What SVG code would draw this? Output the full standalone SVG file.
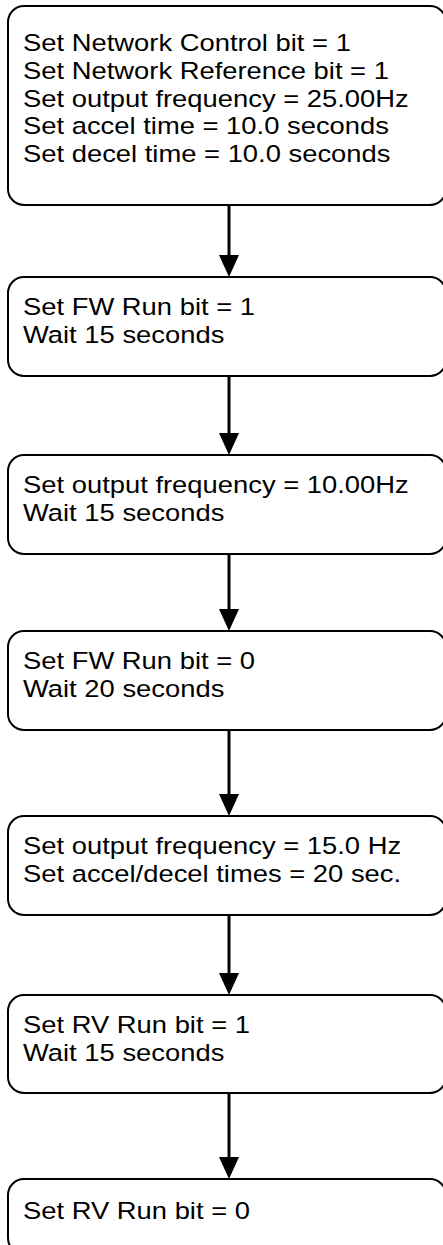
<svg xmlns="http://www.w3.org/2000/svg" width="443" height="1245" viewBox="0 0 443 1245">
<style>
.box{fill:#fff;stroke:#000;stroke-width:2}
.t{font-family:"Liberation Sans",Arial,Helvetica,sans-serif;font-size:24.5px;fill:#000}
.c{stroke:#000;stroke-width:3;fill:none}
.ah{fill:#000}
</style>
<rect width="443" height="1245" fill="#fff"/>
<g id="connectors">
<line class="c" x1="229" y1="205" x2="229" y2="256"/><path class="ah" d="M219,255 L239,255 L229,277 Z"/>
<line class="c" x1="229" y1="376" x2="229" y2="434"/><path class="ah" d="M219,433 L239,433 L229,455 Z"/>
<line class="c" x1="229" y1="554" x2="229" y2="610"/><path class="ah" d="M219,609 L239,609 L229,631 Z"/>
<line class="c" x1="229" y1="730" x2="229" y2="795"/><path class="ah" d="M219,794 L239,794 L229,816 Z"/>
<line class="c" x1="229" y1="915" x2="229" y2="974"/><path class="ah" d="M219,973 L239,973 L229,995 Z"/>
<line class="c" x1="229" y1="1093" x2="229" y2="1158"/><path class="ah" d="M219,1157 L239,1157 L229,1179 Z"/>
</g>
<g id="n1">
<rect class="box" x="8" y="6" width="438" height="199" rx="16"/>
<g transform="matrix(1.118 0 0 1 23 0)">
<text class="t" x="0" y="51.5">Set Network Control bit = 1</text>
<text class="t" x="0" y="79.1">Set Network Reference bit = 1</text>
<text class="t" x="0" y="106.7">Set output frequency = 25.00Hz</text>
<text class="t" x="0" y="134.3">Set accel time = 10.0 seconds</text>
<text class="t" x="0" y="161.9">Set decel time = 10.0 seconds</text>
</g>
</g>
<g id="n2">
<rect class="box" x="8" y="277" width="438" height="99" rx="16"/>
<g transform="matrix(1.118 0 0 1 23 0)">
<text class="t" x="0" y="315">Set FW Run bit = 1</text>
<text class="t" x="0" y="342.6">Wait 15 seconds</text>
</g>
</g>
<g id="n3">
<rect class="box" x="8" y="455" width="438" height="99" rx="16"/>
<g transform="matrix(1.118 0 0 1 23 0)">
<text class="t" x="0" y="493">Set output frequency = 10.00Hz</text>
<text class="t" x="0" y="520.6">Wait 15 seconds</text>
</g>
</g>
<g id="n4">
<rect class="box" x="8" y="631" width="438" height="99" rx="16"/>
<g transform="matrix(1.118 0 0 1 23 0)">
<text class="t" x="0" y="669">Set FW Run bit = 0</text>
<text class="t" x="0" y="696.6">Wait 20 seconds</text>
</g>
</g>
<g id="n5">
<rect class="box" x="8" y="816" width="438" height="99" rx="16"/>
<g transform="matrix(1.118 0 0 1 23 0)">
<text class="t" x="0" y="854">Set output frequency = 15.0 Hz</text>
<text class="t" x="0" y="881.6">Set accel/decel times = 20 sec.</text>
</g>
</g>
<g id="n6">
<rect class="box" x="8" y="995" width="438" height="98" rx="16"/>
<g transform="matrix(1.118 0 0 1 23 0)">
<text class="t" x="0" y="1033">Set RV Run bit = 1</text>
<text class="t" x="0" y="1060.6">Wait 15 seconds</text>
</g>
</g>
<g id="n7">
<rect class="box" x="8" y="1179" width="438" height="75" rx="16"/>
<g transform="matrix(1.118 0 0 1 23 0)">
<text class="t" x="0" y="1219">Set RV Run bit = 0</text>
</g>
</g>
</svg>
